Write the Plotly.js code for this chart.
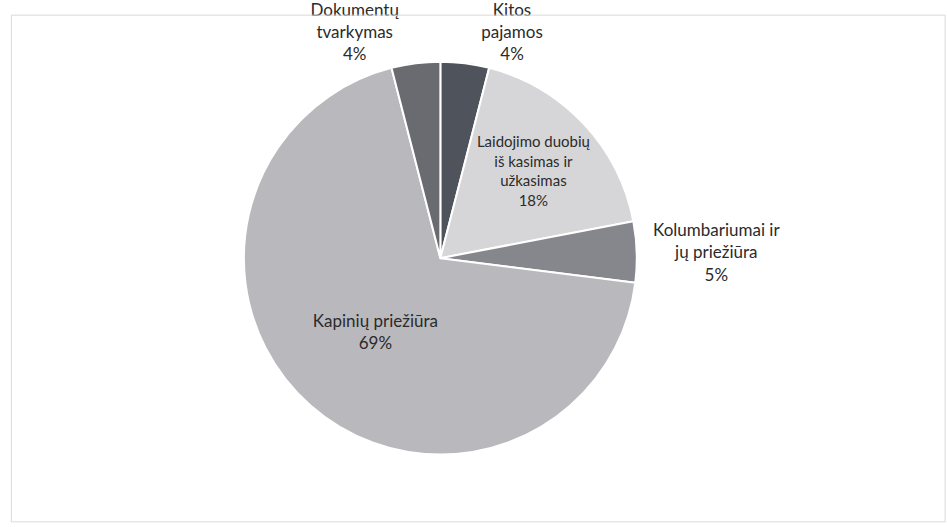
<!DOCTYPE html>
<html>
<head>
<meta charset="utf-8">
<script src="https://cdn.plot.ly/plotly-3.0.1.min.js"></script>
<style>html,body{margin:0;padding:0;background:#fff;}#chart{width:947px;height:527px;}</style>
</head>
<body>
<div id="chart"></div>
<script>
const categories = [
  "Kitos<br>pajamos",
  "Laidojimo duobių<br>iš kasimas ir<br>užkasimas",
  "Kolumbariumai ir<br>jų priežiūra",
  "Kapinių priežiūra",
  "Dokumentų<br>tvarkymas"
];
const shares = [4, 18, 5, 69, 4];
const sliceColors = ["#4f535b", "#d6d6d8", "#86878c", "#b9b9bd", "#6a6b71"];
const labelPositions = ["outside", "inside", "outside", "inside", "outside"];

const trace = {
  type: "pie",
  labels: categories,
  values: shares,
  sort: false,
  direction: "clockwise",
  rotation: 0,
  marker: { colors: sliceColors, line: { color: "#ffffff", width: 2 } },
  textposition: labelPositions,
  texttemplate: "%{label}<br>%{percent:.0%}",
  textfont: { family: "Lato, Liberation Sans, Arial, sans-serif", size: 17, color: "#2b2b2b" },
  insidetextorientation: "horizontal",
  showlegend: false,
  domain: { x: [0.1, 0.83], y: [0.14, 0.9] },
  hoverinfo: "label+percent"
};

const layout = {
  width: 947, height: 527,
  margin: { l: 0, r: 0, t: 10, b: 0 },
  paper_bgcolor: "#ffffff",
  showlegend: false,
  shapes: [{
    type: "rect", xref: "paper", yref: "paper",
    x0: 0.012, x1: 0.998, y0: 0.01, y1: 0.99,
    line: { color: "#d9d9d9", width: 1 }
  }]
};

Plotly.newPlot("chart", [trace], layout, { displayModeBar: false, staticPlot: true });
</script>
</body>
</html>
